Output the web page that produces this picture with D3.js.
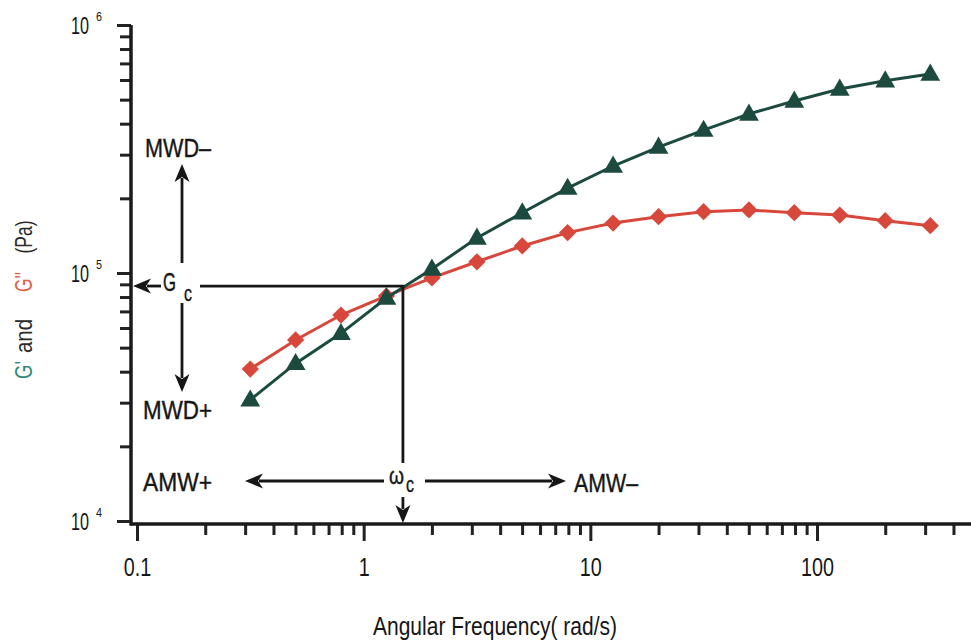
<!DOCTYPE html>
<html>
<head>
<meta charset="utf-8">
<script src="https://cdn.jsdelivr.net/npm/d3@7/dist/d3.min.js"></script>
<style>
  html, body { margin: 0; padding: 0; background: #fff; }
  svg { display: block; }
  text { font-family: "Liberation Sans", Arial, sans-serif; fill: #161616; }
</style>
</head>
<body>
<script>
// Angular frequency sweep (rad/s)
const frequency = [0.316, 0.501, 0.794, 1.26, 2.0, 3.16, 5.01, 7.94, 12.6, 20.0, 31.6, 50.1, 79.4, 126, 200, 316];
// Storage modulus G' (Pa)
const storageModulus = [30800, 43200, 57100, 79300, 103800, 138500, 175000, 220000, 270000, 322000, 377000, 438000, 494000, 552000, 596000, 635000];
// Loss modulus G'' (Pa)
const lossModulus = [41000, 53700, 67700, 80800, 95500, 111000, 128500, 145500, 159000, 168700, 176700, 179500, 175000, 171300, 162500, 155200];
// Crossover point
const crossoverFrequency = 1.49;
const crossoverModulus = 88600;
// Axis ticks
const xMajorTicks = [0.1, 1, 10, 100];
const xTickLabels = ["0.1", "1", "10", "100"];
const yMajorTicks = [1e4, 1e5, 1e6];
const yTickExponents = ["4", "5", "6"];

const W = 971, H = 642;
const svg = d3.select("body").append("svg").attr("width", W).attr("height", H);

const axisX = 131, axisY = 524;
const x = d3.scaleLog().domain([0.1, 100]).range([137, 817]);
const y = d3.scaleLog().domain([1e4, 1e6]).range([521, 25]);
const xMax = x.invert(W);

const green = "#1d4a3f", red = "#d8473b", ink = "#161616";

// squeeze glyphs horizontally to a narrow face
function condense(sel, factor) {
  sel.each(function () {
    const len = this.getComputedTextLength();
    d3.select(this).attr("textLength", len * factor).attr("lengthAdjust", "spacingAndGlyphs");
  });
  return sel;
}

// minor ticks: 2..9 within each decade
function minorTicks(lo, hi) {
  const out = [];
  for (let d = lo; d < hi; d *= 10)
    for (let k = 2; k <= 9; k++) if (d * k <= hi) out.push(d * k);
  return out;
}

// ---- x axis ----
const gx = svg.append("g").attr("transform", `translate(0,${axisY})`);
gx.append("g").call(d3.axisBottom(x).tickValues(minorTicks(0.1, xMax)).tickSize(11).tickFormat(""))
  .call(g => g.select(".domain").remove())
  .selectAll("line").attr("stroke", "#222").attr("stroke-width", 3);
const xm = gx.append("g").call(d3.axisBottom(x).tickValues(xMajorTicks).tickSize(17).tickPadding(17)
    .tickFormat((d, i) => xTickLabels[i]))
  .call(g => g.select(".domain").remove());
xm.selectAll("line").attr("stroke", "#222").attr("stroke-width", 3);
xm.selectAll("text").attr("font-size", 26).attr("fill", ink)
  .attr("font-family", "Liberation Sans, Arial, sans-serif");
condense(xm.selectAll("text"), 0.76);
gx.append("line").attr("x1", axisX - 1).attr("x2", W).attr("y1", 0).attr("y2", 0)
  .attr("stroke", "#1a1a1a").attr("stroke-width", 3.5);

// ---- y axis ----
const gy = svg.append("g").attr("transform", `translate(${axisX},0)`);
gy.append("g").call(d3.axisLeft(y).tickValues(minorTicks(1e4, 1e6)).tickSize(11).tickFormat(""))
  .call(g => g.select(".domain").remove())
  .selectAll("line").attr("stroke", "#222").attr("stroke-width", 3);
gy.append("g").call(d3.axisLeft(y).tickValues(yMajorTicks).tickSize(14).tickFormat(""))
  .call(g => g.select(".domain").remove())
  .selectAll("line").attr("stroke", "#222").attr("stroke-width", 3);
gy.append("line").attr("x1", 0).attr("x2", 0).attr("y1", y(1e6)).attr("y2", axisY + 1.5)
  .attr("stroke", "#1a1a1a").attr("stroke-width", 3.5);

const yLabels = svg.append("g");
yMajorTicks.forEach((d, i) => {
  yLabels.append("text").attr("x", 89).attr("y", y(d) + 9).attr("text-anchor", "end")
    .attr("font-size", 23).attr("textLength", 18).attr("lengthAdjust", "spacingAndGlyphs").text("10");
  yLabels.append("text").attr("x", 96).attr("y", y(d) - 4).attr("font-size", 12)
    .attr("textLength", 6).attr("lengthAdjust", "spacingAndGlyphs").text(yTickExponents[i]);
});

// ---- axis titles ----
svg.append("text").attr("x", 495).attr("y", 635).attr("text-anchor", "middle")
  .attr("font-size", 25).attr("textLength", 244).attr("lengthAdjust", "spacingAndGlyphs")
  .text("Angular Frequency( rad/s)");

// vertical title, laid out word by word along the modulus axis
const titleParts = [
  { s: "G'", c: "#2e8a78", at: 370, w: 18 },
  { s: "and", c: "#2a2a2a", at: 336, w: 34 },
  { s: "G''", c: "#e0604c", at: 282, w: 20 },
  { s: "(Pa)", c: "#2a2a2a", at: 237, w: 33 }
];
titleParts.forEach(p => {
  svg.append("text").attr("transform", `translate(32,${p.at}) rotate(-90)`)
    .attr("text-anchor", "middle").attr("font-size", 24)
    .attr("textLength", p.w).attr("lengthAdjust", "spacingAndGlyphs")
    .style("fill", p.c).text(p.s);
});

// ---- series ----
const line = d3.line().x(d => x(d[0])).y(d => y(d[1]));
const gPrime = frequency.map((f, i) => [f, storageModulus[i]]);
const gDouble = frequency.map((f, i) => [f, lossModulus[i]]);

svg.append("path").datum(gDouble).attr("d", line).attr("fill", "none")
  .attr("stroke", red).attr("stroke-width", 3);
svg.append("g").selectAll("path").data(gDouble).join("path")
  .attr("transform", d => `translate(${x(d[0])},${y(d[1])})`)
  .attr("d", d3.symbol(d3.symbolDiamond2, 190)).attr("fill", red);

svg.append("path").datum(gPrime).attr("d", line).attr("fill", "none")
  .attr("stroke", green).attr("stroke-width", 3);
svg.append("g").selectAll("path").data(gPrime).join("path")
  .attr("transform", d => `translate(${x(d[0])},${y(d[1]) + 1})`)
  .attr("d", d3.symbol(d3.symbolTriangle, 170)).attr("fill", green);

// ---- crossover annotations ----
function arrow(x1, y1, x2, y2) {
  const a = Math.atan2(y2 - y1, x2 - x1), L = 18, w = 7.5;
  const bx = x2 - L * Math.cos(a), by = y2 - L * Math.sin(a);
  svg.append("line").attr("x1", x1).attr("y1", y1).attr("x2", bx + 4 * Math.cos(a)).attr("y2", by + 4 * Math.sin(a))
    .attr("stroke", ink).attr("stroke-width", 2.8);
  const pts = [[x2, y2],
    [bx - w * Math.sin(a), by + w * Math.cos(a)],
    [x2 - (L - 5) * Math.cos(a), y2 - (L - 5) * Math.sin(a)],
    [bx + w * Math.sin(a), by - w * Math.cos(a)]];
  svg.append("path").attr("d", "M" + pts.join("L") + "Z").attr("fill", ink);
}
function label(px, py, s, size, width) {
  const t = svg.append("text").attr("x", px).attr("y", py).attr("font-size", size)
    .attr("stroke", ink).attr("stroke-width", 0.4).text(s);
  if (width) t.attr("textLength", width).attr("lengthAdjust", "spacingAndGlyphs");
  return t;
}

const cx = x(crossoverFrequency), cy = y(crossoverModulus);
// G_c: horizontal guide back to the modulus axis
svg.append("line").attr("x1", 200).attr("x2", cx + 1).attr("y1", cy).attr("y2", cy)
  .attr("stroke", ink).attr("stroke-width", 2.8);
arrow(161, cy, axisX + 2, cy);
label(163, cy + 5, "G", 25, 13);
label(184, cy + 15, "c", 22, 8);

// ω_c: vertical guide down to the frequency axis
svg.append("line").attr("x1", cx).attr("x2", cx).attr("y1", cy - 1).attr("y2", 463)
  .attr("stroke", ink).attr("stroke-width", 2.8);
label(389, 484, "ω", 24, 15);
label(406, 492, "c", 22, 8);
arrow(cx, 497, cx, axisY - 1);

// molecular weight distribution arrows
arrow(182, 263, 182, 164);
arrow(182, 303, 182, 392);
label(145, 157, "MWD–", 26, 66);
label(143, 419, "MWD+", 26, 69);

// average molecular weight arrows
arrow(384, 481, 245, 481);
arrow(425, 481, 566, 481);
label(143, 491, "AMW+", 26, 69);
label(574, 492, "AMW–", 26, 64);
</script>
</body>
</html>
